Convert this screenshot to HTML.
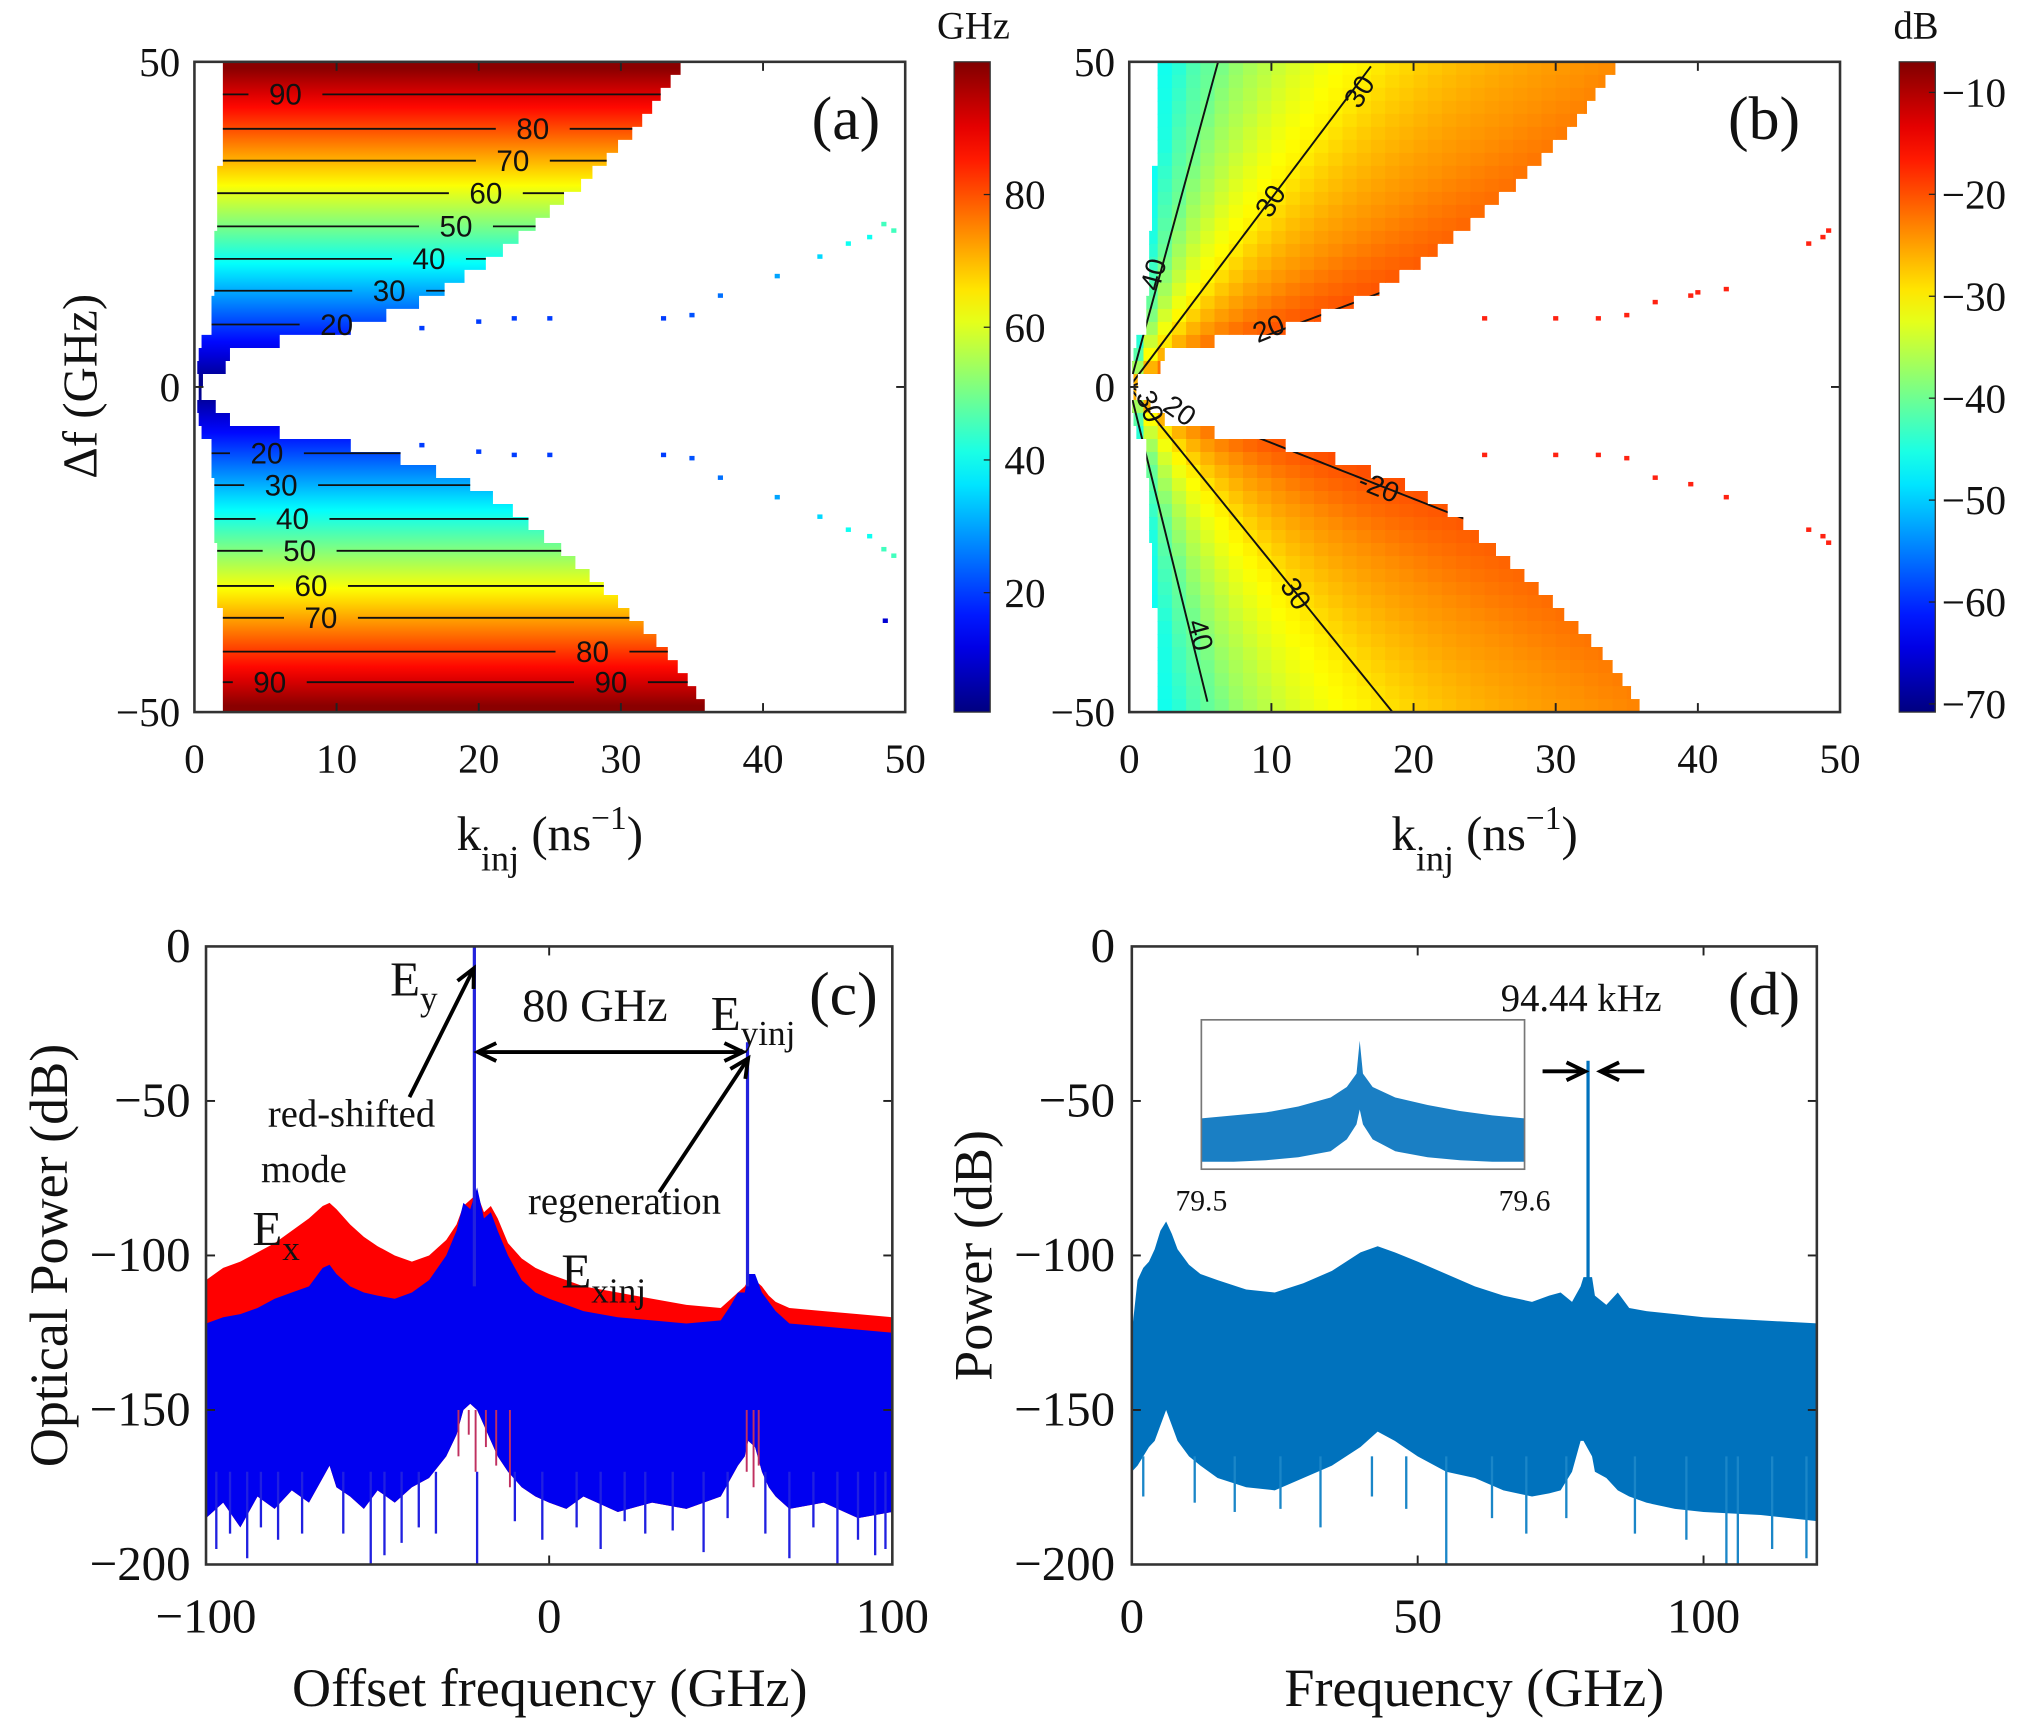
<!DOCTYPE html>
<html><head><meta charset="utf-8"><style>
html,body{margin:0;padding:0;background:#fff}
svg{display:block}
text{font-family:"Liberation Serif",serif;fill:#111}
.sans{font-family:"Liberation Sans",sans-serif}
</style></head><body>
<svg id="fig" width="2019" height="1735" viewBox="0 0 1568 1347.4" xmlns="http://www.w3.org/2000/svg">
<defs>
<linearGradient id="jetA" x1="0" y1="1" x2="0" y2="0"></linearGradient>
<linearGradient id="rowGradA" gradientUnits="userSpaceOnUse" x1="0" y1="48" x2="0" y2="553"></linearGradient>
<clipPath id="clipA"><polygon id="polyA" points=""/></clipPath>
<clipPath id="clipB"><polygon id="polyB" points=""/></clipPath>
<clipPath id="clipC"><rect x="160" y="735" width="533" height="480"/></clipPath>
<clipPath id="clipD"><rect x="879" y="735" width="532" height="480"/></clipPath>
<clipPath id="clipI"><rect x="933" y="792" width="251" height="116"/></clipPath>
</defs>
<g id="root"></g>
</svg>
<script>
// ---------- DATA: panel (a)/(b) heatmap rows ----------
const rowDf=[49,47,45,43,41,39,37,35,33,31,29,27,25,23,21,19,17,15,13,11,9,7,5,3,1,-1,-3,-5,-7,-9,-11,-13,-15,-17,-19,-21,-23,-25,-27,-29,-31,-33,-35,-37,-39,-41,-43,-45,-47,-49];
const aRowVal=[99,95,91,87,83,79,75,71,67,63,59,55,51,47,43,39,35,31,27,23,19,15,11,7,3,3,7,11,15,19,23,27,31,35,39,43,47,51,55,59,63,67,71,75,79,83,87,91,95,99];
const rowKRight=[34.2,33.5,32.8,32.2,31.5,30.8,29.8,29,28,27.2,26,25,24,22.8,21.7,20.5,19,17.6,15.8,13.5,11,6,2.5,2.2,0.6,0.5,1.5,2.5,6,11,14.5,17,19.4,21,22.4,23.5,24.6,25.8,26.8,27.8,28.8,29.8,30.6,31.6,32.5,33.3,34,34.7,35.3,35.9];
const rowKLeft=[2,2,2,2,2,2,2,2,1.6,1.6,1.6,1.6,1.6,1.4,1.4,1.4,1.4,1.4,1.2,1.2,1.2,0.5,0.3,0.2,0.3,0.3,0.2,0.3,0.5,1.2,1.2,1.2,1.4,1.4,1.4,1.4,1.4,1.6,1.6,1.6,1.6,1.6,2,2,2,2,2,2,2,2];
// contour levels (a)
const aLevels=[90,80,70,60,50,40,30,20,20,30,40,50,60,70,80,90];
const aLevelDf=[45,39.7,34.8,29.8,24.7,19.7,14.8,9.6,-10.2,-15.1,-20.3,-25.2,-30.6,-35.5,-40.7,-45.4];
const aLabelK=[[6.4],[23.8],[22.4],[20.5],[18.4],[16.5],[13.7],[10],[5.1],[6.1],[6.9],[7.4],[8.2],[8.9],[28],[5.3,29.3]];
const aDotK=[16,20,22.5,25,33,35,37,41,44,46,47.5,48.5,49.2,16,20,22.5,25,33,35,37,41,44,46,47.5,48.5,49.2,48.6];
const aDotDf=[9,10,10.5,10.5,10.5,11,14,17,20,22,23,25,24,-9,-10,-10.5,-10.5,-10.5,-11,-14,-17,-20,-22,-23,-25,-26,-36];
const aDotVal=[20,20,20,20,20,22,25,30,35,40,40,45,45,20,20,20,20,20,22,25,30,35,40,40,45,45,10];
// panel (b): dB vs ratio |df|/k
const bRatio=[0.3,0.8,1.5,2.9,5,8,15,40];
const bDb=[-17,-20,-24,-30,-35,-40,-45,-49];
const bLevels=[-50,-40,-30,-20];
const bRUp=[30,8,2.9,0.82];
const bRDown=[28,8.8,2.7,0.86];
const bDotK=[25,30,33,35,37,39.5,40,42,47.8,48.8,49.2,25,30,33,35,37,39.5,42,47.8,48.8,49.2];
const bDotDf=[10.5,10.5,10.5,11,13,14,14.5,15,22,23,24,-10.5,-10.5,-10.5,-11,-14,-15,-17,-22,-23,-24];
// ---------- DATA: panel (c) ----------
const cFreq=[-100,-95,-90,-85,-80,-75,-70,-66,-64,-62,-58,-54,-50,-45,-40,-35,-30,-27,-25,-23,-21,-19,-17,-15,-12,-8,-4,0,5,10,20,30,40,50,53,55,57,58,60,62,64,66,70,80,90,100];
const cRedTop=[-108,-104,-102,-99,-96,-92,-88,-84,-83,-85,-90,-94,-97,-100,-102,-100,-95,-90,-84,-82,-80,-86,-84,-88,-96,-101,-104,-106,-108,-110,-112,-114,-116,-117,-114,-112,-110,-108,-108,-110,-113,-115,-117,-118,-119,-120];
const cBlueTop=[-122,-120,-119,-117,-114,-112,-110,-104,-103,-106,-110,-112,-113,-114,-112,-108,-100,-92,-83,-85,-78,-88,-86,-92,-100,-108,-112,-114,-116,-118,-120,-121,-122,-121,-116,-112,-112,-106,-106,-112,-115,-118,-122,-123,-124,-125];
const cBlueBot=[-185,-180,-188,-178,-182,-176,-180,-172,-168,-175,-178,-182,-176,-180,-175,-172,-165,-158,-150,-148,-150,-155,-160,-165,-170,-175,-178,-180,-182,-178,-183,-180,-182,-178,-172,-168,-165,-160,-162,-170,-175,-178,-182,-180,-185,-183];
const cSpikeF=[-97,-93,-88,-84,-79,-72,-60,-52,-48,-43,-38,-33,-21,-10,-2,8,15,22,28,36,45,52,63,70,77,84,90,95,98];
const cSpikeDb=[-195,-190,-198,-188,-192,-190,-190,-200,-197,-193,-188,-190,-200,-186,-192,-188,-195,-186,-190,-189,-196,-185,-190,-198,-188,-200,-192,-197,-195];
const cRedSpikeF=[-27,-24,-22,-19,-16,-12,57,59,60.5];
const cRedSpikeDb=[-175,-168,-180,-172,-178,-185,-180,-185,-178];
const cPeakF=[-21.8,57.8];
const cPeakDb=[0,-31];
// ---------- DATA: panel (d) ----------
const dFreq=[0,1,2,3,4,5,6,7,8,10,12,15,20,25,30,35,40,43,46,50,55,60,65,70,73,75,77,78.5,79,80.5,81,83,85,87,90,95,100,110,120];
const dTop=[-125,-108,-104,-102,-98,-92,-89,-93,-98,-103,-106,-108,-111,-112,-109,-105,-99,-97,-99,-102,-106,-110,-113,-115,-113,-112,-115,-110,-107,-107,-113,-116,-112,-117,-118,-119,-120,-121,-122];
const dBot=[-170,-168,-165,-162,-160,-155,-150,-155,-160,-165,-168,-172,-175,-176,-172,-168,-162,-157,-160,-165,-170,-172,-176,-178,-177,-176,-170,-160,-160,-165,-170,-172,-176,-178,-180,-182,-183,-184,-186];
const dSpikeF=[2,6.5,11,18,26,33,42,48,55,63,69,76,88,97,104,106,112,118];
const dSpikeDb=[-178,-165,-180,-183,-182,-188,-178,-182,-205,-185,-190,-185,-190,-192,-205,-203,-195,-198];
const dPeakF=[79.8];
const dPeakDb=[-37];
const insF=[79.5,79.51,79.52,79.53,79.54,79.545,79.548,79.549,79.55,79.553,79.56,79.57,79.58,79.59,79.6];
const insTop=[-66,-64,-62,-58,-52,-45,-36,-14,-36,-45,-52,-57,-61,-64,-66];
const insBot=[-95,-95,-94,-92,-88,-80,-70,-60,-70,-80,-88,-92,-94,-95,-95];

// ---------- axes ----------
const ax=k=>151+k*11.04, bx=k=>877+k*11.04, ay=f=>48+(50-f)*5.05;
const cx=f=>160+(f+100)*2.665, cy=d=>735-d*2.4;
const dx=f=>879+f*4.44, dy=d=>735-d*2.4;
const ix=f=>933+(f-79.5)*2510, iy=d=>792-d*1.16;
const cbA=v=>553-(v-2)*505/98, cbB=v=>553-(v+70.8)*505/63.8;

const NS="http://www.w3.org/2000/svg";
const root=document.getElementById('root');
function mk(tag,attrs,parent){const e=document.createElementNS(NS,tag);for(const k in attrs)e.setAttribute(k,attrs[k]);(parent||root).appendChild(e);return e;}
function jet(t){t=Math.max(0,Math.min(1,t));const c=x=>Math.round(255*Math.max(0,Math.min(1,1.5-Math.abs(4*t-x))));return `rgb(${c(3)},${c(2)},${c(1)})`;}
function txt(x,y,s,size,parent,anchor,cls){const e=mk('text',{x:x,y:y,'font-size':size,'text-anchor':anchor||'middle'},parent);if(cls)e.setAttribute('class',cls);e.textContent=s;return e;}
function interp(xs,ys,x){if(x<=xs[0])return ys[0];for(let i=1;i<xs.length;i++){if(x<=xs[i]){const t=(x-xs[i-1])/(xs[i]-xs[i-1]);return ys[i-1]+t*(ys[i]-ys[i-1]);}}return ys[ys.length-1];}
function rowIdx(f){let b=0,bd=1e9;rowDf.forEach((d,i)=>{const dd=Math.abs(d-f);if(dd<bd){bd=dd;b=i;}});return b;}

const grad=document.getElementById('jetA');
for(let i=0;i<=20;i++){mk('stop',{offset:(i/20),'stop-color':jet(i/20)},grad);}
const rg=document.getElementById('rowGradA');
rowDf.forEach((d,i)=>{mk('stop',{offset:((ay(d)-48)/505).toFixed(4),'stop-color':jet((aRowVal[i]-2)/98)},rg);});

function maskPts(xf){const L=[],R=[];rowDf.forEach((d,i)=>{const t=ay(d+1),b=ay(d-1);L.push(`${xf(rowKLeft[i])},${t}`,`${xf(rowKLeft[i])},${b}`);R.push(`${xf(rowKRight[i])},${t}`,`${xf(rowKRight[i])},${b}`);});return L.concat(R.reverse()).join(' ');}
document.getElementById('polyA').setAttribute('points',maskPts(ax));
document.getElementById('polyB').setAttribute('points',maskPts(bx));

function frame(x0,y0,w,h,xt,yt,name){
  const g=mk('g',{});
  
  
  xt.forEach(x=>{mk('line',{x1:x,y1:y0+h,x2:x,y2:y0+h-7,stroke:'#222','stroke-width':1.5},g);mk('line',{x1:x,y1:y0,x2:x,y2:y0+7,stroke:'#222','stroke-width':1.5},g);});
  yt.forEach(y=>{mk('line',{x1:x0,y1:y,x2:x0+7,y2:y,stroke:'#222','stroke-width':1.5},g);mk('line',{x1:x0+w,y1:y,x2:x0+w-7,y2:y,stroke:'#222','stroke-width':1.5},g);});
  mk('rect',{x:x0,y:y0,width:w,height:h,fill:'none',stroke:'#333','stroke-width':2},g);
}

// ================= PANEL A =================
const pA=mk('g',{});


const hA=mk('g',{'clip-path':'url(#clipA)'},pA);


const hRect=mk('rect',{x:ax(0),y:48,width:ax(50)-ax(0),height:505,fill:'url(#rowGradA)'},hA);


aDotK.forEach((k,i)=>{const r=mk('rect',{x:ax(k)-2,y:ay(aDotDf[i])-2,width:4,height:3.5,fill:jet((aDotVal[i]-2)/98)},pA);

});
aLevels.forEach((lv,i)=>{const f=aLevelDf[i],ri=rowIdx(f);const k0=0,k1=rowKRight[ri]+2;
 let segs=[k0];aLabelK[i].forEach(k=>{segs.push(k-2.6,k+2.6);});segs.push(k1);
 for(let s=0;s<segs.length;s+=2){const l=mk('line',{x1:ax(segs[s]),y1:ay(f),x2:ax(Math.min(segs[s+1],k1)),y2:ay(f),stroke:'#111','stroke-width':1.4},hA);
 
 }
 aLabelK[i].forEach(k=>{const t=txt(ax(k),ay(f)+8,String(lv),23,pA,'middle','sans');
 
 });
});
frame(151,48,552,505,[0,10,20,30,40,50].map(ax),[50,0,-50].map(ay),'plot-a');
[0,10,20,30,40,50].forEach(v=>{const t=txt(ax(v),600,String(v),32,pA);});
[[50,'50'],[0,'0'],[-50,'−50']].forEach(([v,s])=>{const t=txt(140,ay(v)+11,s,32,pA,'end');});
let t1=txt(657,108,'(a)',48,pA);
let ylA=mk('text',{x:0,y:0,'font-size':38,'text-anchor':'middle',transform:'translate(75,300) rotate(-90)'},pA);ylA.textContent='Δf (GHz)';

function kinj(x,parent,name){const t=mk('text',{x:x,y:660,'font-size':38,'text-anchor':'middle'},parent);
 t.innerHTML='k<tspan font-size="28" dy="16">inj</tspan><tspan dy="-16"> (ns</tspan><tspan font-size="26" dy="-16">−1</tspan><tspan dy="16">)</tspan>';
 }
kinj(427,pA,'x-axis-title-a');
const cba=mk('rect',{x:741,y:48,width:28,height:505,fill:'url(#jetA)',stroke:'#333','stroke-width':1},pA);

[80,60,40,20].forEach(v=>{mk('line',{x1:764,y1:cbA(v),x2:769,y2:cbA(v),stroke:'#222'},pA);const t=txt(780,cbA(v)+11,String(v),32,pA,'start');});
let u1=txt(756,30,'GHz',30,pA);

// ================= PANEL B =================
const pB=mk('g',{});


const hB=mk('g',{'clip-path':'url(#clipB)'},pB);


rowDf.forEach(d=>{for(let k=0;k<50;k+=1){const r=Math.abs(d)/Math.max(k+0.5,0.2);const v=interp(bRatio,bDb,r);
 const c=mk('rect',{x:bx(k),y:ay(d+1),width:11.6,height:10.7,fill:jet((v+70.8)/63.8)},hB);
 
 }});
bLevels.forEach((lv,i)=>{[bRUp[i],-bRDown[i]].forEach(r=>{const pts=[];for(let k=0;k<=50;k+=0.25){const f=r*k;if(Math.abs(f)>50)break;pts.push(`${bx(k)},${ay(f)}`);}
 const l=mk('polyline',{points:pts.join(' '),fill:'none',stroke:'#111','stroke-width':1.5,'stroke-dasharray':lv===-50?'8,5':'none'},hB);
 
 });});
bDotK.forEach((k,i)=>{const r=mk('rect',{x:bx(k)-2,y:ay(bDotDf[i])-2,width:4,height:3.5,fill:'#f21'},pB);

});
[[903,215,-75,'40'],[993,160,-58,'30'],[1062,75,-58,'30'],[988,262,-22,'20'],[1068,385,22,'-20'],[1000,465,58,'30'],[925,495,75,'40'],[886,318,70,'30'],[912,325,35,'20']].forEach(([x,y,a,s])=>{
 const t=mk('text',{x:0,y:0,'font-size':22,'text-anchor':'middle',class:'sans',transform:`translate(${x},${y}) rotate(${a})`},pB);t.textContent=s;
 });
frame(877,48,552,505,[0,10,20,30,40,50].map(bx),[50,0,-50].map(ay),'plot-b');
[0,10,20,30,40,50].forEach(v=>{const t=txt(bx(v),600,String(v),32,pB);});
[[50,'50'],[0,'0'],[-50,'−50']].forEach(([v,s])=>{const t=txt(866,ay(v)+11,s,32,pB,'end');});
let t2=txt(1370,108,'(b)',48,pB);
kinj(1153,pB,'x-axis-title-b');
const cbb=mk('rect',{x:1475,y:48,width:28,height:505,fill:'url(#jetA)',stroke:'#333','stroke-width':1},pB);

[-10,-20,-30,-40,-50,-60,-70].forEach(v=>{mk('line',{x1:1498,y1:cbB(v),x2:1503,y2:cbB(v),stroke:'#222'},pB);const t=txt(1508,cbB(v)+11,'−'+Math.abs(v),32,pB,'start');});
let u2=txt(1488,30,'dB',30,pB);

// ================= PANEL C =================
const pC=mk('g',{});


const gC=mk('g',{'clip-path':'url(#clipC)'},pC);
function band(xs,top,bot,xf,yf){const a=xs.map((x,i)=>`${xf(x)},${yf(top[i])}`);const b=xs.map((x,i)=>`${xf(x)},${yf(bot[i])}`).reverse();return a.concat(b).join(' ');}
const redBand=mk('polygon',{points:band(cFreq,cRedTop,cBlueBot,cx,cy),fill:'#f00'},gC);

const blueBand=mk('polygon',{points:band(cFreq,cBlueTop,cBlueBot,cx,cy),fill:'#0000f0'},gC);

cSpikeF.forEach((f,i)=>{const l=mk('line',{x1:cx(f),y1:cy(-170),x2:cx(f),y2:cy(cSpikeDb[i]),stroke:'#2020e0','stroke-width':1.8},gC);});
cRedSpikeF.forEach((f,i)=>{const l=mk('line',{x1:cx(f)+1.5,y1:cy(-150),x2:cx(f)+1.5,y2:cy(cRedSpikeDb[i]+10),stroke:'#c03060','stroke-width':1.5},gC);});
cPeakF.forEach((f,i)=>{const l=mk('line',{x1:cx(f),y1:cy(-110),x2:cx(f),y2:cy(cPeakDb[i]),stroke:'#2222dd','stroke-width':2.5},gC);});
frame(160,735,533,480,[-100,0,100].map(cx),[0,-50,-100,-150,-200].map(cy),'plot-c');
[[-100,'−100'],[0,'0'],[100,'100']].forEach(([v,s])=>{const t=txt(cx(v),1268,s,38,pC);});
[[0,'0'],[-50,'−50'],[-100,'−100'],[-150,'−150'],[-200,'−200']].forEach(([v,s])=>{const t=txt(148,cy(v)+12,s,38,pC,'end');});
let ylC=mk('text',{x:0,y:0,'font-size':42,'text-anchor':'middle',transform:'translate(52,975) rotate(-90)'},pC);ylC.textContent='Optical Power (dB)';
let xlC=txt(427,1325,'Offset frequency (GHz)',42,pC);
let t3=txt(655,788,'(c)',48,pC);
function sub(x,y,base,s,size,parent,name){const t=mk('text',{x:x,y:y,'font-size':size,'text-anchor':'start'},parent);t.innerHTML=base+`<tspan font-size="${size*0.72}" dy="${size*0.3}">${s}</tspan>`;}
sub(303,773,'E','y',38,pC,'annotation-ey');
sub(552,800,'E','yinj',38,pC,'annotation-eyinj');
sub(196,967,'E','x',38,pC,'annotation-ex');
sub(436,1000,'E','xinj',38,pC,'annotation-exinj');
[[462,793,'80 GHz',36],[273,875,'red-shifted',30],[236,918,'mode',30],[485,943,'regeneration',30]].forEach(([x,y,s,z])=>{const t=txt(x,y,s,z,pC);});
function arrow(x1,y1,x2,y2,parent,name,both){const g=mk('g',{},parent);
 mk('line',{x1:x1,y1:y1,x2:x2,y2:y2,stroke:'#000','stroke-width':3},g);
 const head=(xa,ya,xb,yb)=>{const a=Math.atan2(yb-ya,xb-xa),L=16,w=0.45;mk('polyline',{points:`${xb-L*Math.cos(a-w)},${yb-L*Math.sin(a-w)} ${xb},${yb} ${xb-L*Math.cos(a+w)},${yb-L*Math.sin(a+w)}`,fill:'none',stroke:'#000','stroke-width':3},g);};
 head(x1,y1,x2,y2);if(both)head(x2,y2,x1,y1);}
arrow(318,852,368,752,pC,'arrow-ey');
arrow(371,817,577,817,pC,'arrow-80ghz',true);
arrow(512,926,581,822,pC,'arrow-regeneration');

// ================= PANEL D =================
const pD=mk('g',{});


const gD=mk('g',{'clip-path':'url(#clipD)'},pD);
const dBand=mk('polygon',{points:band(dFreq,dTop,dBot,dx,dy),fill:'#0072BD'},gD);

dSpikeF.forEach((f,i)=>{const l=mk('line',{x1:dx(f),y1:dy(-165),x2:dx(f),y2:dy(dSpikeDb[i]),stroke:'#1a86c8','stroke-width':1.8},gD);});
dPeakF.forEach((f,i)=>{const l=mk('line',{x1:dx(f),y1:dy(-110),x2:dx(f),y2:dy(dPeakDb[i]),stroke:'#0072BD','stroke-width':2.5},gD);});
frame(879,735,532,480,[0,50,100].map(dx),[0,-50,-100,-150,-200].map(dy),'plot-d');
[0,50,100].forEach(v=>{const t=txt(dx(v),1268,String(v),38,pD);});
[[0,'0'],[-50,'−50'],[-100,'−100'],[-150,'−150'],[-200,'−200']].forEach(([v,s])=>{const t=txt(866,dy(v)+12,s,38,pD,'end');});
let ylD=mk('text',{x:0,y:0,'font-size':42,'text-anchor':'middle',transform:'translate(770,975) rotate(-90)'},pD);ylD.textContent='Power (dB)';
let xlD=txt(1145,1325,'Frequency (GHz)',42,pD);
let t4=txt(1370,788,'(d)',48,pD);
let kz=txt(1228,785,'94.44 kHz',30,pD);
arrow(1198,832,1231,832,pD,'arrow-right');
arrow(1277,832,1243,832,pD,'arrow-left');
const gI=mk('g',{},pD);


mk('rect',{x:933,y:792,width:251,height:116,fill:'#fff'},gI);
const gIc=mk('g',{'clip-path':'url(#clipI)'},gI);
const iBand=mk('polygon',{points:band(insF,insTop,insBot,ix,iy),fill:'#1a7fc4'},gIc);

mk('rect',{x:933,y:792,width:251,height:116,fill:'none',stroke:'#777','stroke-width':1.3},gI);
[[79.5,'79.5'],[79.6,'79.6']].forEach(([v,s])=>{const t=txt(ix(v),940,s,23,gI);});
</script>
</body></html>
